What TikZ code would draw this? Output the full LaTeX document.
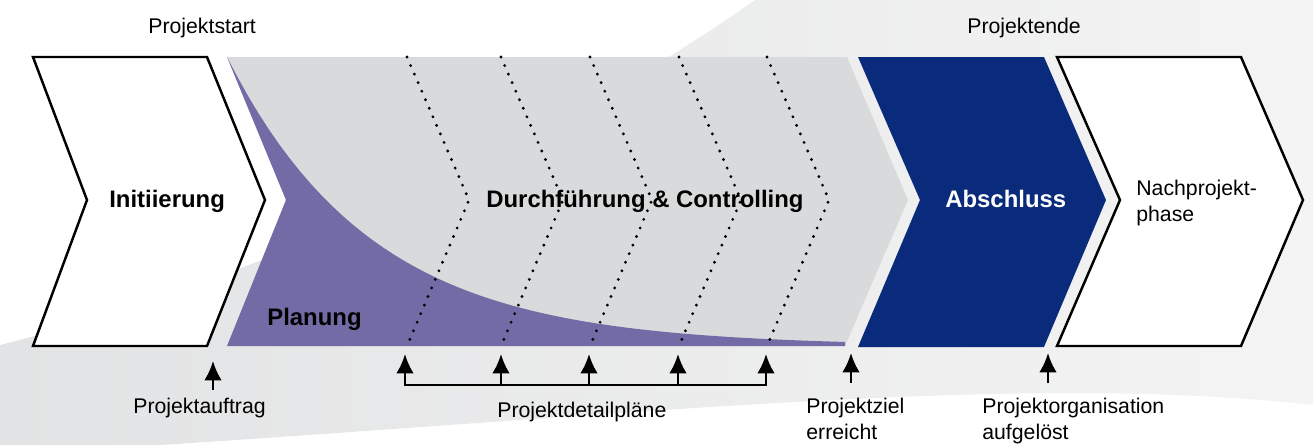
\documentclass[tikz,border=0pt]{standalone}
\usepackage{fontspec}
\setmainfont{Liberation Sans}
\usetikzlibrary{arrows.meta}
\definecolor{planung}{RGB}{115,107,166}
\definecolor{abschluss}{RGB}{10,43,123}
\definecolor{durchf}{RGB}{217,218,220}
\definecolor{bgleft}{RGB}{226,227,228}
\definecolor{bgright}{RGB}{244,244,244}
\begin{document}
\begin{tikzpicture}[x=0.02cm,y=-0.02cm]
\tikzstyle{txt}=[font=\fontsize{12.1}{14.7}\selectfont,inner sep=0pt]
\tikzstyle{phase}=[font=\bfseries\fontsize{13.6}{16}\selectfont,inner sep=0pt]
\tikzstyle{box}=[draw=black,line width=1.4pt,fill=white]
\tikzstyle{dots}=[line width=1.8pt,dash pattern=on 0pt off 5.3pt,line cap=round]
\tikzstyle{up}=[-{Latex[length=11pt,width=10pt]},line width=1.4pt]
\useasboundingbox (0,0) rectangle (1313,444);

% background
\begin{scope}
\clip (0,0) rectangle (1313,444);
\shade[left color=bgleft,right color=bgright] (0,345) .. controls (300,270) and (600,110) .. (755,0)
  -- (1313,0) -- (1313,405) .. controls (1000,370) and (600,420) .. (0,455) -- cycle;
\end{scope}

% phases
\draw[box] (33,57) -- (207,57) -- (265,200) -- (207,346) -- (33,346) -- (87,200) -- cycle;
\fill[durchf] (227,57) -- (847,57) -- (908,200) -- (845,346) -- (227,346) -- (286,200) -- cycle;
\fill[planung] (227,57) -- (286,200) -- (227,346) -- (845,346) -- (845,342)
  -- plot[domain=845:227,samples=60] (\x,{346-289*exp(-(\x-227)/145)}) -- cycle;
\fill[abschluss] (858,57) -- (1044,57) -- (1106,200) -- (1044,347) -- (858,347) -- (920,200) -- cycle;
\draw[box] (1057,57) -- (1241,57) -- (1303,200) -- (1241,346) -- (1057,346) -- (1120,200) -- cycle;

% detail plans
\draw[dots] (407,57) -- (469,200) -- (407,346);
\draw[dots] (501,57) -- (563,200) -- (501,346);
\draw[dots] (590,57) -- (652,200) -- (590,346);
\draw[dots] (679,57) -- (741,200) -- (679,346);
\draw[dots] (767,57) -- (829,200) -- (767,346);

\node[phase,anchor=base west] at (109,207) (init) {Initiierung};
\node[phase,anchor=base west] at (267,325) (plan) {Planung};
\node[phase,anchor=base west] at (486,207) (durch) {Durchführung \& Controlling};
\node[phase,anchor=base west,text=white] at (945,207) (absch) {Abschluss};
\node[txt,anchor=north west,align=left] at (1136,180) (nach) {Nachprojekt-\\phase};

\node[txt,anchor=base west] at (148,33) (start) {Projektstart};
\node[txt,anchor=base west] at (967,33) (ende) {Projektende};
\node[txt,anchor=base west] at (133,413) (auftrag) {Projektauftrag};
\node[txt,anchor=base west] at (497,417) (detail) {Projektdetailpläne};
\node[txt,anchor=north west,align=left] at (806,398) (ziel) {Projektziel\\erreicht};
\node[txt,anchor=north west,align=left] at (982,398) (orga) {Projektorganisation\\aufgelöst};

% milestones
\coordinate (a0) at (213,390);
\coordinate (a1) at (213,361);
\draw[up] (a0) -- (a1);
\coordinate (p1) at (405,385);
\coordinate (p2) at (501,385);
\coordinate (p3) at (589,385);
\coordinate (p4) at (678,385);
\coordinate (p5) at (766,385);
\coordinate (q1) at (405,354);
\coordinate (q2) at (501,354);
\coordinate (q3) at (589,354);
\coordinate (q4) at (678,354);
\coordinate (q5) at (766,354);
\draw[up,{Latex[length=11pt,width=10pt]}-{Latex[length=11pt,width=10pt]}] (q1) -- (p1) -- (p5) -- (q5);
\draw[up] (p2) -- (q2);
\draw[up] (p3) -- (q3);
\draw[up] (p4) -- (q4);
\coordinate (z0) at (851,383);
\coordinate (z1) at (851,353);
\draw[up] (z0) -- (z1);
\coordinate (o0) at (1048,383);
\coordinate (o1) at (1048,353);
\draw[up] (o0) -- (o1);
\end{tikzpicture}
\end{document}
